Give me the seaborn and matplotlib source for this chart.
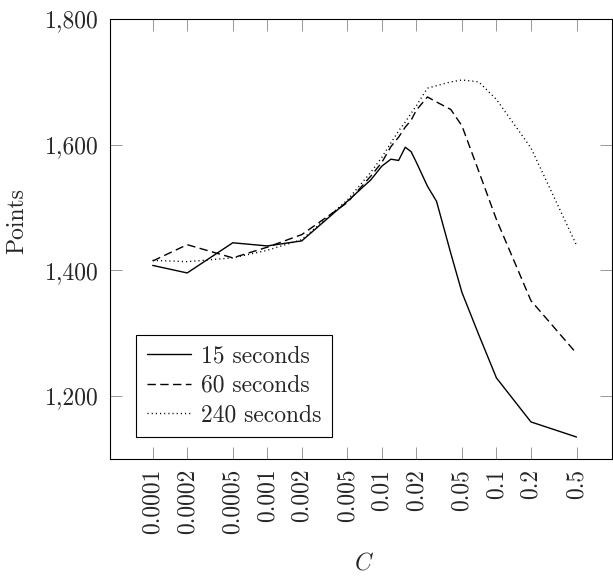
import numpy as np
import pandas as pd
import seaborn as sns
import matplotlib.pyplot as plt
from matplotlib.ticker import FuncFormatter, NullLocator

# values
C_VALUES = [0.0001, 0.0002, 0.0005, 0.001, 0.002, 0.005, 0.008, 0.01, 0.012, 0.014,
            0.016, 0.018, 0.02, 0.025, 0.03, 0.04, 0.05, 0.07, 0.1, 0.2, 0.5]
POINTS_15 = [1408, 1396, 1444, 1439, 1447, 1510, 1544, 1566, 1577, 1575,
             1596, 1589, 1572, 1534, 1510, 1427, 1365, 1298, 1229, 1159, 1135]
POINTS_60 = [1415, 1441, 1420, 1437, 1457, 1508, 1550, 1572, 1597, 1612,
             1628, 1639, 1655, 1676, 1668, 1656, 1630, 1558, 1481, 1352, 1268]
POINTS_240 = [1416, 1414, 1420, 1432, 1449, 1512, 1556, 1580, 1603, 1622,
              1636, 1650, 1662, 1690, 1694, 1700, 1703, 1700, 1672, 1595, 1440]
SERIES = ["15 seconds", "60 seconds", "240 seconds"]
TICK_LABELS = ["0.0001", "0.0002", "0.0005", "0.001", "0.002", "0.005",
               "0.01", "0.02", "0.05", "0.1", "0.2", "0.5"]
Y_TICKS = [1200, 1400, 1600, 1800]

df = pd.concat([
    pd.DataFrame({"C": C_VALUES, "Points": vals, "series": name})
    for name, vals in zip(SERIES, [POINTS_15, POINTS_60, POINTS_240])
], ignore_index=True)

sns.set_style("ticks")
plt.rcParams["font.family"] = ["cmr10", "DejaVu Serif"]
plt.rcParams["mathtext.fontset"] = "cm"
plt.rcParams["axes.formatter.use_mathtext"] = True
plt.rcParams["font.size"] = 17

fig = plt.figure(figsize=(6.13, 5.76), dpi=100)
ax = fig.add_axes([0.1794, 0.2031, 0.819, 0.7639])

sns.lineplot(data=df, x="C", y="Points", hue="series", style="series",
             palette=["black"] * 3, dashes=["", (6, 3.2), (0.8, 2.2)],
             estimator=None, linewidth=1.0, ax=ax)

ax.set_xscale("log")
ax.set_xlim(4.24e-5, 1.02)
ax.set_ylim(1100, 1800)
ax.set_xticks([float(t) for t in TICK_LABELS])
ax.set_xticklabels(TICK_LABELS, rotation=90)
ax.xaxis.set_minor_locator(NullLocator())
ax.set_yticks(Y_TICKS)
ax.yaxis.set_major_formatter(FuncFormatter(lambda v, p: f"{int(v):,}"))

ax.tick_params(direction="in", top=True, right=True, length=8.5, width=0.6,
               color="#888888", labelsize=17)
ax.tick_params(axis="x", pad=7)
ax.tick_params(axis="y", pad=8)
for s in ax.spines.values():
    s.set_color("black")
    s.set_linewidth(0.8)

ax.set_xlabel("$C$", fontsize=17)
ax.set_ylabel("Points", fontsize=17)
ax.xaxis.set_label_coords(0.505, -0.212)
ax.yaxis.set_label_coords(-0.163, 0.541)

leg = ax.legend(loc="lower left", bbox_to_anchor=(0.0518, 0.0507), borderaxespad=0,
                fancybox=False, edgecolor="black", framealpha=1, fontsize=17,
                handlelength=1.9, labelspacing=0.3, handletextpad=0.4,
                borderpad=0.45, title=None)
leg.get_frame().set_linewidth(0.8)

fig.savefig("out.png", dpi=100)
